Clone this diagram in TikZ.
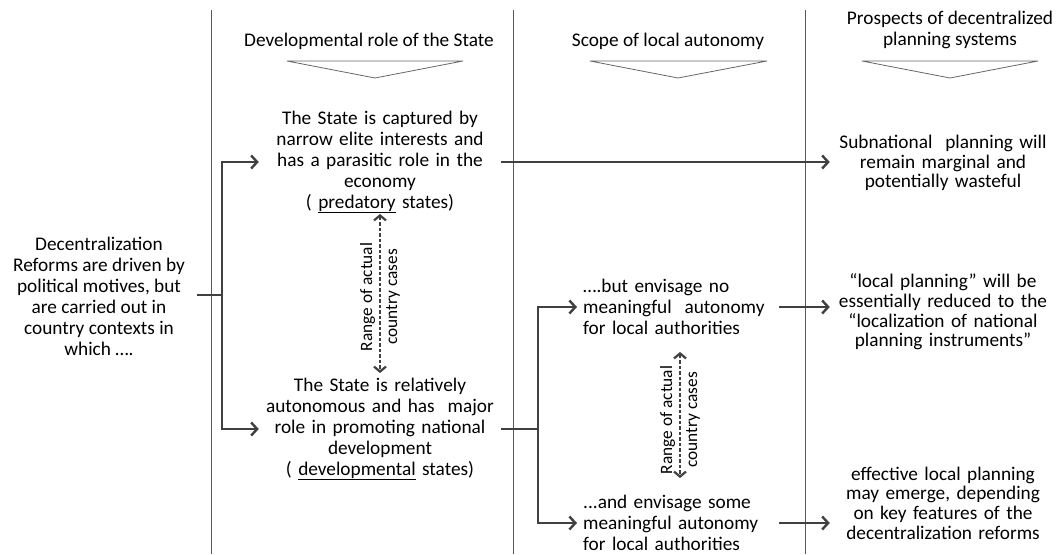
\documentclass[tikz,border=0pt]{standalone}
\usepackage{fontspec}
\setmainfont{Carlito}
\usetikzlibrary{arrows.meta}

\begin{document}
\begin{tikzpicture}[x=1pt,y=-1pt]
\tikzset{
	t/.style={font=\fontsize{19.3}{21}\selectfont, align=center, inner sep=0pt},
	tr/.style={font=\fontsize{19.3}{19.7}\selectfont, align=center, inner sep=0pt},
	g/.style={font=\fontsize{17.3}{25}\selectfont, align=center, inner sep=0pt, rotate=90},
	l/.style={line width=2.4pt, draw=black!75},
	a/.style={l, -{Straight Barb[length=6pt,width=13pt]}},
	r/.style={line width=2.2pt, draw=black!75, dash pattern=on 3.5pt off 2pt, {Straight Barb[length=5pt,width=12pt]}-{Straight Barb[length=5pt,width=12pt]}},
	v/.style={draw=black!65, line width=1pt},
	h/.style={draw=black!60, line width=0.8pt}
}
\useasboundingbox (0,0) rectangle (1059,554);

% Spaltenlinien
\draw[v] (211,10) -- (211,554);
\draw[v] (513,10) -- (513,554);
\draw[v] (805,10) -- (805,554);

% Kopfzeilen
\node[t] (h_1) at(369,41) {Developmental role of the State};
\node[t] (h_2) at(668,41) {Scope of local autonomy};
\node[t] (h_3) at(950,30) {Prospects of decentralized\\planning systems};
\draw[h] (287,61) -- (463,61) -- (375,78) -- cycle;
\draw[h] (590,61) -- (767,61) -- (678,78) -- cycle;
\draw[h] (862,61) -- (1038,61) -- (950,78) -- cycle;

% links
\node[t, inner xsep=12pt] (dec) at(99,296) {Decentralization\\Reforms are driven by\\political motives, but\\are carried out in\\country contexts in\\which ….};

% Rolle des Staates
\node[t, text width=236pt, inner xsep=3pt] (st_1) at(380,162) {The State is captured by\\narrow elite interests and\\has a parasitic role in the\\economy\\( \underline{predatory} states)};
\node[t, text width=236pt, inner xsep=3pt] (st_2) at(380,429) {The State is relatively\\autonomous and has~ major\\role in promoting national\\development\\( \underline{developmental} states)};

% Autonomie
\node[t, text width=190pt, inner xsep=6pt, align=left, anchor=west] (au_1) at(577,307) {….but envisage no\\meaningful~ autonomy\\for local authorities};
\node[t, text width=190pt, inner xsep=6pt, align=left, anchor=west] (au_2) at(577,523) {...and envisage some\\meaningful autonomy\\for local authorities};

% Aussichten
\node[tr, text width=218pt, inner xsep=4pt] (out_1) at(943,163) {Subnational~ planning will\\remain marginal and\\potentially wasteful};
\node[tr, text width=218pt, inner xsep=4pt] (out_2) at(943,312) {“local planning” will be\\essentially reduced to the\\“localization of national\\planning instruments”};
\node[tr, text width=218pt, inner xsep=4pt] (out_3) at(943,503) {effective local planning\\may emerge, depending\\on key features of the\\decentralization reforms};

% Verzweigungen
\coordinate (b_1) at(222,295);
\coordinate (b_2) at(538,429);
\draw[l] (dec.east |- b_1) -- (b_1);
\draw[a] (b_1) |- (st_1.west);
\draw[a] (b_1) |- (st_2.west);
\draw[l] (st_2.east) -- (st_2.east -| b_2);
\draw[a] (b_2) |- (au_1.west);
\draw[a] (b_2) |- (au_2.west);

% Pfeile nach rechts
\draw[a] (st_1.east) -- (out_1.west |- st_1.east);
\draw[a] (au_1.east) -- (out_2.west |- au_1.east);
\draw[a] (au_2.east) -- (out_3.west |- au_2.east);

% Bandbreite
\coordinate (rg_1a) at(380,214);
\coordinate (rg_1b) at(380,373);
\draw[r] (rg_1a) -- (rg_1b);
\node[g] (rg_1) at(380,297) {Range of actual\\country cases};
\coordinate (rg_2a) at(680,352);
\coordinate (rg_2b) at(680,478);
\draw[r] (rg_2a) -- (rg_2b);
\node[g] (rg_2) at(680,420) {Range of actual\\country cases};

\end{tikzpicture}
\end{document}
